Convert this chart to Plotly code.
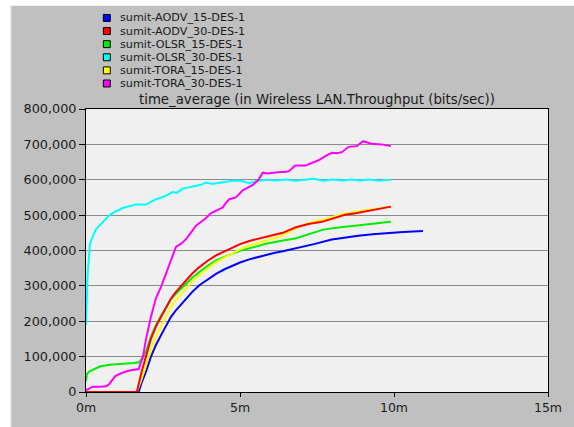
import plotly.graph_objects as go

# ---------------- data (time in minutes, throughput in bits/sec) ----------------
series_names = ["sumit-AODV_15-DES-1", "sumit-AODV_30-DES-1", "sumit-OLSR_15-DES-1",
                "sumit-OLSR_30-DES-1", "sumit-TORA_15-DES-1", "sumit-TORA_30-DES-1"]
series_colors = ["#0000ff", "#ff0000", "#00ee00", "#00ffff", "#ffff00", "#ff00ff"]

aodv15_t = [0, 1.71, 1.8, 1.95, 2.1, 2.27, 2.45, 2.6, 2.75, 2.92, 3.1, 3.25, 3.45, 3.68, 3.95, 4.22,
            4.5, 4.76, 5.0, 5.3, 5.6, 5.84, 6.1, 6.39, 6.7, 7.0, 7.4, 7.98, 8.4, 8.84, 9.3, 9.7, 10.3, 10.94]
aodv15_v = [0, 0, 25000, 58000, 98000, 133000, 163000, 189000, 211000, 231000, 249000, 264000, 283000,
            302000, 319000, 334000, 347000, 358000, 366000, 375000, 382000, 388000, 393000, 398000,
            404000, 410000, 418000, 431000, 437000, 442000, 446000, 449000, 452000, 455000]

aodv30_t = [0, 1.65, 1.8, 1.95, 2.1, 2.27, 2.45, 2.6, 2.75, 2.92, 3.1, 3.25, 3.45, 3.68, 3.95, 4.22,
            4.5, 4.76, 5.0, 5.3, 5.6, 5.84, 6.1, 6.39, 6.79, 7.22, 7.66, 8.0, 8.41, 8.8, 9.16, 9.5, 9.9]
aodv30_v = [0, 0, 55000, 105000, 148000, 185000, 215000, 241000, 263000, 283000, 301000, 316000, 335000,
            353000, 371000, 386000, 398000, 407000, 418000, 427000, 433000, 437000, 443000, 450000,
            465000, 475000, 481000, 490000, 501000, 506000, 512000, 518000, 524000]

olsr15_t = [0, 0.03, 0.1, 0.27, 0.45, 0.76, 1.0, 1.3, 1.55, 1.73, 1.85, 1.95, 2.1, 2.27, 2.45, 2.6,
            2.75, 2.92, 3.1, 3.25, 3.45, 3.68, 3.95, 4.22, 4.5, 4.76, 5.0, 5.3, 5.6, 5.84, 6.1, 6.39,
            6.79, 7.2, 7.7, 8.2, 8.9, 9.4, 9.9]
olsr15_v = [30000, 50000, 58000, 65000, 72000, 77000, 78000, 80000, 82000, 84000, 100000, 114000,
            155000, 189000, 218000, 241000, 261000, 278000, 293000, 306000, 323000, 339000, 357000,
            372000, 383000, 391000, 399000, 407000, 413000, 419000, 424000, 428000, 434000, 446000,
            459000, 465000, 472000, 476000, 481000]

olsr30_t = [0, 0.05, 0.13, 0.32, 0.54, 0.76, 0.95, 1.19, 1.4, 1.62, 1.95, 2.1, 2.27, 2.45, 2.6, 2.81,
            2.95, 3.14, 3.46, 3.7, 3.9, 4.1, 4.4, 4.76, 5.0, 5.3, 5.5, 5.84, 6.2, 6.5, 6.8, 7.1, 7.4,
            7.7, 8.0, 8.3, 8.6, 8.9, 9.2, 9.5, 9.9]
olsr30_v = [190000, 330000, 420000, 460000, 480000, 500000, 510000, 520000, 525000, 530000, 530000,
            538000, 545000, 550000, 555000, 565000, 563000, 575000, 580000, 585000, 592000, 588000,
            592000, 597000, 598000, 590000, 596000, 600000, 598000, 601000, 597000, 600000, 603000,
            597000, 601000, 598000, 601000, 598000, 601000, 597000, 600000]

tora15_t = [0, 1.65, 1.8, 1.95, 2.1, 2.27, 2.45, 2.6, 2.75, 2.92, 3.1, 3.25, 3.45, 3.68, 3.95, 4.22,
            4.5, 4.76, 5.0, 5.3, 5.6, 5.84, 6.1, 6.39, 6.79, 7.22, 7.66, 8.0, 8.41, 8.8, 9.16, 9.5, 9.9]
tora15_v = [0, 0, 35000, 77000, 118000, 156000, 188000, 217000, 240000, 260000, 277000, 292000, 312000,
            330000, 350000, 367000, 380000, 391000, 403000, 414000, 422000, 428000, 435000, 442000,
            461000, 478000, 486000, 494000, 505000, 510000, 515000, 520000, 524000]

tora30_t = [0, 0.1, 0.22, 0.45, 0.65, 0.75, 0.95, 1.14, 1.3, 1.5, 1.71, 1.85, 1.95, 2.1, 2.27, 2.45,
            2.6, 2.75, 2.92, 3.1, 3.25, 3.4, 3.57, 3.75, 3.9, 4.05, 4.22, 4.44, 4.55, 4.65, 4.87, 5.0,
            5.09, 5.25, 5.41, 5.6, 5.74, 5.9, 6.06, 6.3, 6.47, 6.6, 6.79, 7.12, 7.35, 7.55, 7.8, 7.98,
            8.15, 8.31, 8.52, 8.79, 9.0, 9.27, 9.6, 9.9]
tora30_v = [5000, 10000, 15000, 15000, 16000, 22000, 45000, 53000, 58000, 62000, 65000, 100000, 150000,
            210000, 265000, 300000, 335000, 375000, 410000, 420000, 432000, 450000, 470000, 482000,
            492000, 505000, 512000, 522000, 535000, 545000, 550000, 562000, 570000, 578000, 585000,
            600000, 620000, 618000, 620000, 622000, 622000, 625000, 640000, 640000, 648000, 655000,
            668000, 676000, 675000, 678000, 693000, 695000, 709000, 702000, 700000, 695000]

x_tick_vals = [0, 5, 10, 15]
x_tick_text = ["0m", "5m", "10m", "15m"]
y_tick_vals = [0, 100000, 200000, 300000, 400000, 500000, 600000, 700000, 800000]
chart_title = "time_average (in Wireless LAN.Throughput (bits/sec))"

# ---------------- figure ----------------
W, H = 574, 427
L, R, T, B = 86, 22, 109, 33
PW, PH = W - L - R, H - T - B

def px_x(x):
    return (x - L) / PW

def px_y(y):
    return (H - B - y) / PH

FONT = "DejaVu Sans, Verdana, sans-serif"
FS = 12.8
TXT = "#1a1a1a"

fig = go.Figure()
data = {
    0: (aodv15_t, aodv15_v),
    1: (aodv30_t, aodv30_v),
    2: (olsr15_t, olsr15_v),
    3: (olsr30_t, olsr30_v),
    4: (tora15_t, tora15_v),
    5: (tora30_t, tora30_v),
}
draw_order = [0, 2, 3, 5, 4, 1]
for i in draw_order:
    t, v = data[i]
    fig.add_trace(go.Scatter(x=t, y=v, mode="lines", name=series_names[i],
                             line=dict(color=series_colors[i], width=2), showlegend=False))

shapes = [
    # white margin strips at left and top of the image
    dict(type="rect", xref="paper", yref="paper", x0=px_x(-5), x1=px_x(10), y0=px_y(440), y1=px_y(-5),
         fillcolor="white", line=dict(width=0), layer="below"),
    dict(type="rect", xref="paper", yref="paper", x0=px_x(-5), x1=px_x(580), y0=px_y(5), y1=px_y(-5),
         fillcolor="white", line=dict(width=0), layer="below"),
    dict(type="line", xref="paper", yref="paper", x0=px_x(10.5), x1=px_x(10.5), y0=px_y(440), y1=px_y(5),
         line=dict(color="#dcdcdc", width=1), layer="below"),
]
annotations = [
    dict(text=chart_title, x=0.5, y=px_y(99.3), xref="paper", yref="paper", showarrow=False,
         xanchor="center", yanchor="middle",
         font=dict(family=FONT, size=13.3, color=TXT)),
]
row_y = [17.3 + 13.2 * k for k in range(6)]
for k, name in enumerate(series_names):
    cy = row_y[k]
    shapes.append(dict(type="rect", xref="paper", yref="paper",
                       x0=px_x(103.5), x1=px_x(110.5), y0=px_y(cy + 3.5), y1=px_y(cy - 3.5),
                       fillcolor=series_colors[k], line=dict(color="#000000", width=1)))
    annotations.append(dict(text=name, x=px_x(118), y=px_y(cy), xref="paper", yref="paper",
                            showarrow=False, xanchor="left", yanchor="middle",
                            font=dict(family=FONT, size=11.2, color=TXT)))

fig.update_layout(
    width=W, height=H,
    margin=dict(l=L, r=R, t=T, b=B, pad=0),
    paper_bgcolor="#c0c0c0",
    plot_bgcolor="#f0f0f0",
    showlegend=False,
    font=dict(family=FONT, size=FS, color=TXT),
    shapes=shapes,
    annotations=annotations,
    xaxis=dict(range=[0, 15], tickvals=x_tick_vals, ticktext=x_tick_text, showgrid=False,
               zeroline=False, showline=True, linecolor="#000000", linewidth=1, mirror=True,
               ticks="outside", ticklen=4, tickcolor="#000000",
               tickfont=dict(family=FONT, size=12.5, color=TXT)),
    yaxis=dict(range=[0, 800000], tickvals=y_tick_vals, tickformat=",d", showgrid=True,
               gridcolor="#8a8a8a", gridwidth=1, zeroline=False, showline=True,
               linecolor="#000000", linewidth=1, mirror=True, ticks="outside", ticklen=6,
               tickcolor="#000000", tickfont=dict(family=FONT, size=FS, color=TXT)),
)

fig.write_html("out.html", config={"displayModeBar": False},
               post_script="document.body.style.margin='0';document.body.style.overflow='hidden';")
